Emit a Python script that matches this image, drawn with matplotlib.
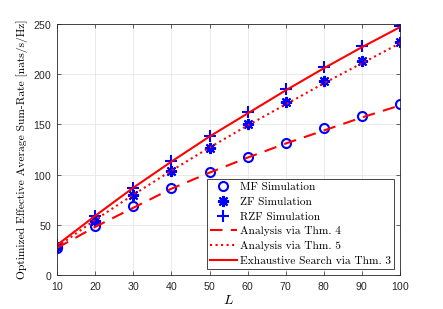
import matplotlib
matplotlib.use('Agg')
import matplotlib.pyplot as plt
import numpy as np

#--------------------------------------------------------------
# Data
L_vals   = [10, 20, 30, 40, 50, 60, 70, 80, 90, 100]
mf_sim   = [27, 49, 69, 87, 103, 118, 132, 146, 158, 170]
zf_sim   = [28, 54, 80, 104, 127, 150, 172, 193, 213, 232]
rzf_sim  = [30, 59, 87, 114, 139, 162, 185, 207, 228, 248]
thm4     = [27, 48, 67, 86, 102, 117, 131, 144, 157, 169]
thm5     = [28, 55, 80, 104, 127, 149, 170, 191, 211, 231]
thm3     = [30, 59, 87, 113, 138, 161, 184, 206, 227, 247]

xticks = [10, 20, 30, 40, 50, 60, 70, 80, 90, 100]
yticks = [0, 50, 100, 150, 200, 250]

serif = 'cmr10'
plt.rcParams['mathtext.fontset'] = 'cm'
plt.rcParams['axes.formatter.use_mathtext'] = True

#--------------------------------------------------------------
fig = plt.figure(figsize=(4.43, 3.09), dpi=100)
ax = fig.add_axes([0.129, 0.110, 0.774, 0.812])

ax.plot(L_vals, mf_sim, 'o', color='blue', mfc='none', mew=1.5, ms=6.5, label='MF Simulation')
ax.plot(L_vals, zf_sim, marker=(8, 2, 0), ls='none', color='blue', mew=1.5, ms=8, label='ZF Simulation')
ax.plot(L_vals, rzf_sim, '+', color='blue', mew=1.5, ms=9, label='RZF Simulation')
ax.plot(L_vals, thm4, '--', color='red', lw=1.5, dashes=(6, 4), label='Analysis via Thm. 4')
ax.plot(L_vals, thm5, ':', color='red', lw=1.5, label='Analysis via Thm. 5')
ax.plot(L_vals, thm3, '-', color='red', lw=1.5, label='Exhaustive Search via Thm. 3')

ax.set_xlim(10, 100)
ax.set_ylim(0, 250)
ax.set_xticks(xticks)
ax.set_yticks(yticks)
ax.tick_params(direction='in', labelsize=7.5, colors='#262626', length=3, width=0.5, top=True, right=True)
for lab in ax.get_xticklabels() + ax.get_yticklabels():
    lab.set_fontfamily('Liberation Sans')
ax.grid(True, color='#e6e6e6', lw=0.6)
ax.set_axisbelow(True)
for s in ax.spines.values():
    s.set_linewidth(0.6)
    s.set_color('#262626')

ax.set_xlabel(r'$L$', fontsize=10, labelpad=1)
ax.set_ylabel('Optimized Effective Average Sum-Rate [nats/s/Hz]', fontsize=8.3, family=serif, labelpad=4)

leg = ax.legend(loc='lower right', prop={'family': serif, 'size': 8.2}, fancybox=False,
                edgecolor='#262626', framealpha=1, handlelength=2.3, handletextpad=0.3,
                labelspacing=0.42, borderpad=0.3, borderaxespad=0.5)
leg.get_frame().set_linewidth(0.6)

plt.savefig('out.png', dpi=100)
plt.close(fig)
